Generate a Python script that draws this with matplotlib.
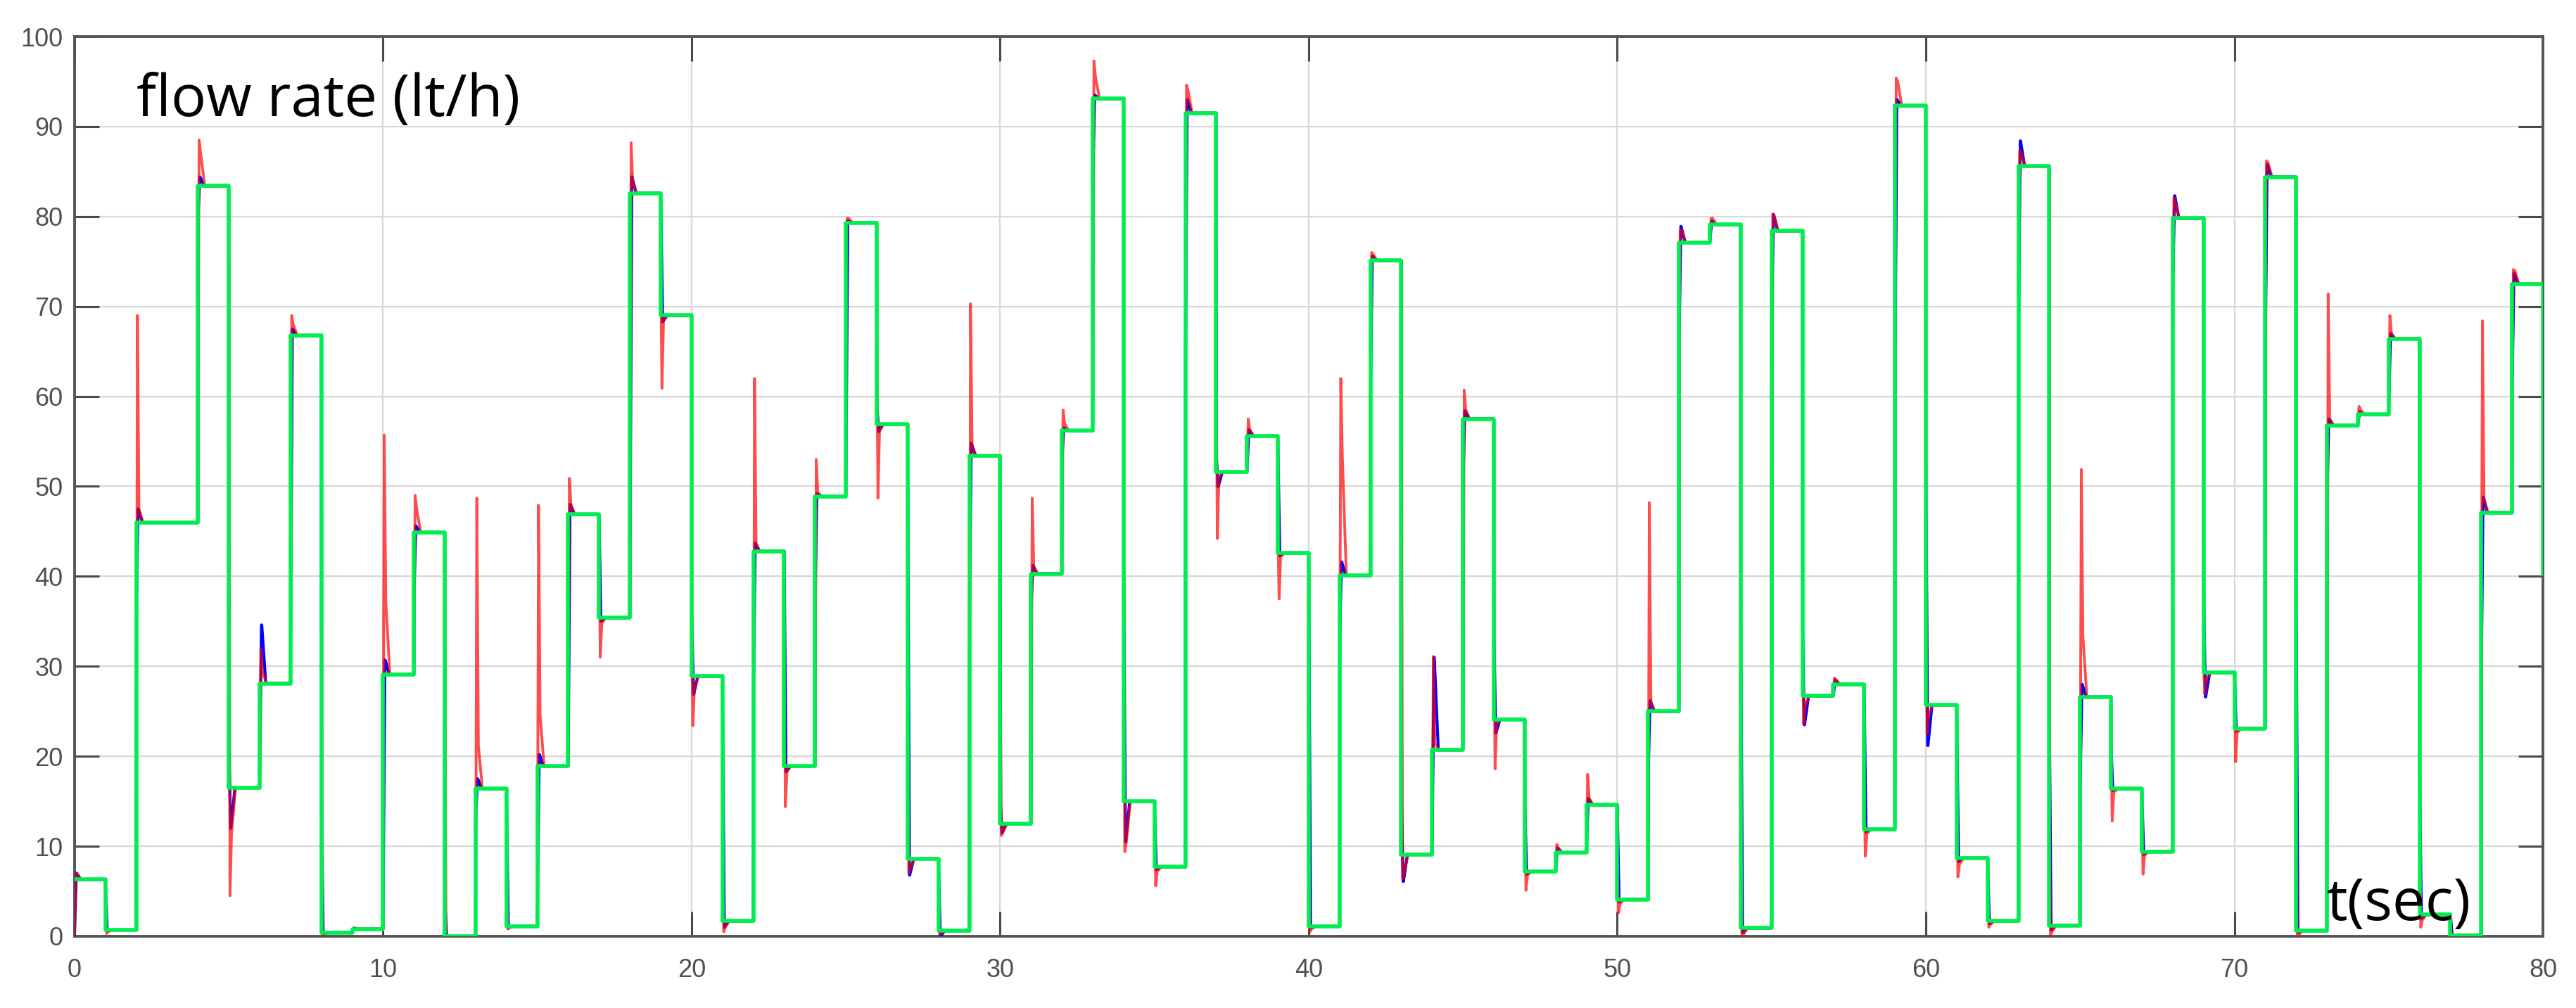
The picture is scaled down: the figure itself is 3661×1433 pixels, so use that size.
import numpy as np
import matplotlib
matplotlib.use("Agg")
import matplotlib.pyplot as plt

# set-point levels (lt/h), one per second, t = 0 .. 79
levels = [6.3, 0.7, 46.0, 46.0, 83.4, 16.5, 28.1, 66.8, 0.4, 0.8,
          29.1, 44.9, 0.0, 16.4, 1.1, 18.9, 46.9, 35.4, 82.6, 69.0,
          28.9, 1.7, 42.8, 18.9, 48.9, 79.3, 56.9, 8.6, 0.6, 53.4,
          12.5, 40.3, 56.2, 93.1, 15.0, 7.7, 91.5, 51.6, 55.6, 42.6,
          1.1, 40.1, 75.1, 9.1, 20.7, 57.5, 24.1, 7.2, 9.3, 14.6,
          4.1, 25.0, 77.1, 79.1, 0.9, 78.4, 26.7, 28.0, 11.9, 92.3,
          25.7, 8.7, 1.7, 85.6, 1.2, 26.6, 16.4, 9.4, 79.8, 29.3,
          23.1, 84.4, 0.6, 56.8, 58.0, 66.4, 2.4, 0.1, 47.1, 72.5]
end_level = 40.3

# red response: extreme of the thin spike and the overshoot at every step
red_spike = [7.0, 0.3, 69.0, 46.0, 88.5, 4.5, 31.9, 69.0, 0.0, 0.9,
             55.7, 49.0, 0.0, 48.7, 0.8, 47.9, 50.9, 31.0, 88.2, 60.9,
             23.4, 0.5, 62.0, 14.4, 53.0, 79.8, 48.7, 7.0, 0.2, 70.3,
             11.2, 48.7, 58.5, 97.3, 9.4, 5.6, 94.6, 44.2, 57.5, 37.5,
             0.5, 62.0, 76.0, 6.4, 31.1, 60.7, 18.6, 5.1, 10.2, 18.0,
             2.6, 48.2, 78.5, 79.8, 0.0, 80.3, 23.6, 28.7, 8.9, 95.4,
             22.5, 6.6, 1.0, 87.3, 0.0, 51.9, 12.8, 6.9, 82.1, 26.9,
             19.4, 86.2, 0.0, 71.4, 58.9, 69.0, 1.0, 0.0, 68.4, 74.1]
red_peak = [6.9, 0.5, 47.5, 46.0, 87.0, 11.5, 29.5, 68.0, 0.2, 0.9,
            37.3, 47.5, 0.0, 21.2, 0.9, 24.6, 48.0, 34.8, 84.0, 68.5,
            27.5, 1.0, 43.6, 18.3, 49.3, 79.8, 56.2, 7.6, 0.3, 54.5,
            11.6, 41.0, 57.0, 95.5, 10.5, 7.2, 94.0, 51.0, 56.3, 42.2,
            0.8, 53.4, 75.8, 7.0, 21.5, 58.5, 23.5, 6.8, 9.8, 15.3,
            3.6, 26.0, 78.5, 79.8, 0.2, 80.0, 25.5, 28.5, 11.4, 95.0,
            24.5, 8.0, 1.3, 87.0, 0.5, 33.4, 16.0, 9.0, 81.5, 28.5,
            22.6, 86.0, 0.2, 57.5, 58.5, 67.0, 1.8, 0.0, 48.5, 74.0]
red_lag = {4: 60.0, 10: 12.0, 15: 5.5, 18: 43.4, 19: 72.6, 20: 35.9,
           21: 12.3, 23: 29.8, 25: 73.4, 26: 66.6, 27: 24.4, 28: 6.0,
           30: 31.4, 34: 34.4, 35: 12.0, 36: 49.8, 37: 59.9, 39: 44.6,
           40: 11.2, 41: 26.0, 42: 60.9, 46: 32.0, 47: 14.8, 50: 7.8,
           52: 66.2, 54: 26.7, 56: 33.0, 58: 15.9, 59: 63.0, 60: 45.1,
           61: 15.9, 62: 4.8, 63: 66.9, 64: 20.1, 65: 16.9, 66: 21.1,
           67: 13.0, 68: 71.9, 69: 30.0, 71: 65.5, 72: 29.0, 76: 15.0,
           78: 34.0, 79: 61.9}

# blue response: overshoot at every step
blue_peak = [7.0, 0.6, 47.5, 46.0, 84.4, 12.0, 34.6, 67.5, 0.3, 0.9,
             30.7, 45.6, 0.0, 17.5, 1.0, 20.2, 48.0, 35.0, 84.4, 68.3,
             26.9, 1.0, 43.7, 18.3, 49.2, 79.5, 56.1, 6.8, 0.0, 54.8,
             11.5, 41.2, 56.5, 93.5, 10.5, 7.4, 93.0, 50.0, 56.3, 42.3,
             0.9, 41.6, 75.6, 6.1, 31.0, 58.4, 22.6, 6.9, 9.8, 15.3,
             3.8, 26.2, 78.9, 79.5, 0.4, 80.2, 23.5, 28.5, 11.6, 93.0,
             21.2, 8.3, 1.4, 88.4, 0.7, 28.0, 16.2, 9.1, 82.3, 26.6,
             22.8, 85.8, 0.4, 57.5, 58.3, 67.0, 2.0, 0.0, 48.8, 73.7]
blue_lag = {2: 35.0, 4: 80.0, 5: 21.0, 8: 14.0, 11: 38.0, 12: 4.0, 13: 13.0,
            20: 36.0, 22: 27.6, 24: 37.8, 26: 59.3, 29: 34.5, 30: 15.1,
            31: 36.6, 32: 53.0, 33: 83.9, 34: 41.6, 36: 63.0, 37: 53.5,
            41: 33.0, 42: 60.5, 43: 15.5, 45: 51.2, 46: 33.6, 47: 15.0,
            51: 18.0, 52: 66.0, 54: 34.6, 55: 68.6, 56: 35.1, 59: 63.0,
            60: 51.7, 63: 67.3, 64: 23.9, 65: 17.0, 66: 21.0, 68: 72.0,
            69: 38.5, 71: 65.5, 72: 36.2, 73: 49.0, 76: 18.0, 78: 30.0,
            79: 61.5}

x_ticks = [0, 10, 20, 30, 40, 50, 60, 70, 80]
y_ticks = [0, 10, 20, 30, 40, 50, 60, 70, 80, 90, 100]


def response(spike, peak, lag, t_spike, t_peak, t_settle):
    # polyline that jumps at every whole second and rings back to the level
    tt, yy = [0.0], [0.0]
    prev = 0.0
    for k, level in enumerate(levels):
        tt.append(k)
        yy.append(prev)
        if k in lag:
            tt.append(k + 0.005)
            yy.append(lag[k])
        tt += [k + t_spike, k + t_peak, k + t_settle]
        yy += [spike[k], peak[k], level]
        prev = level
    tt.append(len(levels))
    yy.append(prev)
    return tt, yy


fig = plt.figure(figsize=(18.31, 7.165), dpi=200)
ax = fig.add_axes([0.0289, 0.0712, 0.958, 0.8925])

bt, by = response(blue_peak, blue_peak, blue_lag, 0.06, 0.07, 0.2)
rt, ry = response(red_spike, red_peak, red_lag, 0.04, 0.09, 0.22)
ax.plot(bt, by, color="#0000ff", lw=1.5, zorder=3)
ax.plot(rt, ry, color="#ff0000", lw=1.4, alpha=0.7, zorder=4)

gt = list(range(len(levels))) + [len(levels)]
gy = levels + [end_level]
ax.step(gt, gy, where="post", color="#00ee50", lw=2.0, zorder=5)

ax.set_xlim(0, 80)
ax.set_ylim(0, 100)
ax.set_xticks(x_ticks)
ax.set_yticks(y_ticks)
ax.grid(True, color="#d8d8d8", lw=0.8, zorder=0)
ax.set_axisbelow(True)
ax.tick_params(direction="in", length=12.5, width=1.1, color="#4a4a4a",
               top=True, right=True, labelsize=13, labelcolor="#505050")
ax.tick_params(axis="x", pad=11)
ax.tick_params(axis="y", pad=6)
for lbl in ax.get_xticklabels() + ax.get_yticklabels():
    lbl.set_fontfamily("Liberation Sans")
for sp in ax.spines.values():
    sp.set_color("#555555")
    sp.set_linewidth(1.4)

ax.text(2.0, 91.2, "flow rate (lt/h)", fontsize=30, family="Open Sans",
        color="black", ha="left", va="baseline", zorder=6)
ax.text(73.0, 1.8, "t(sec)", fontsize=30, family="Open Sans",
        color="black", ha="left", va="baseline", zorder=6)

fig.savefig("out.png", dpi=200)
